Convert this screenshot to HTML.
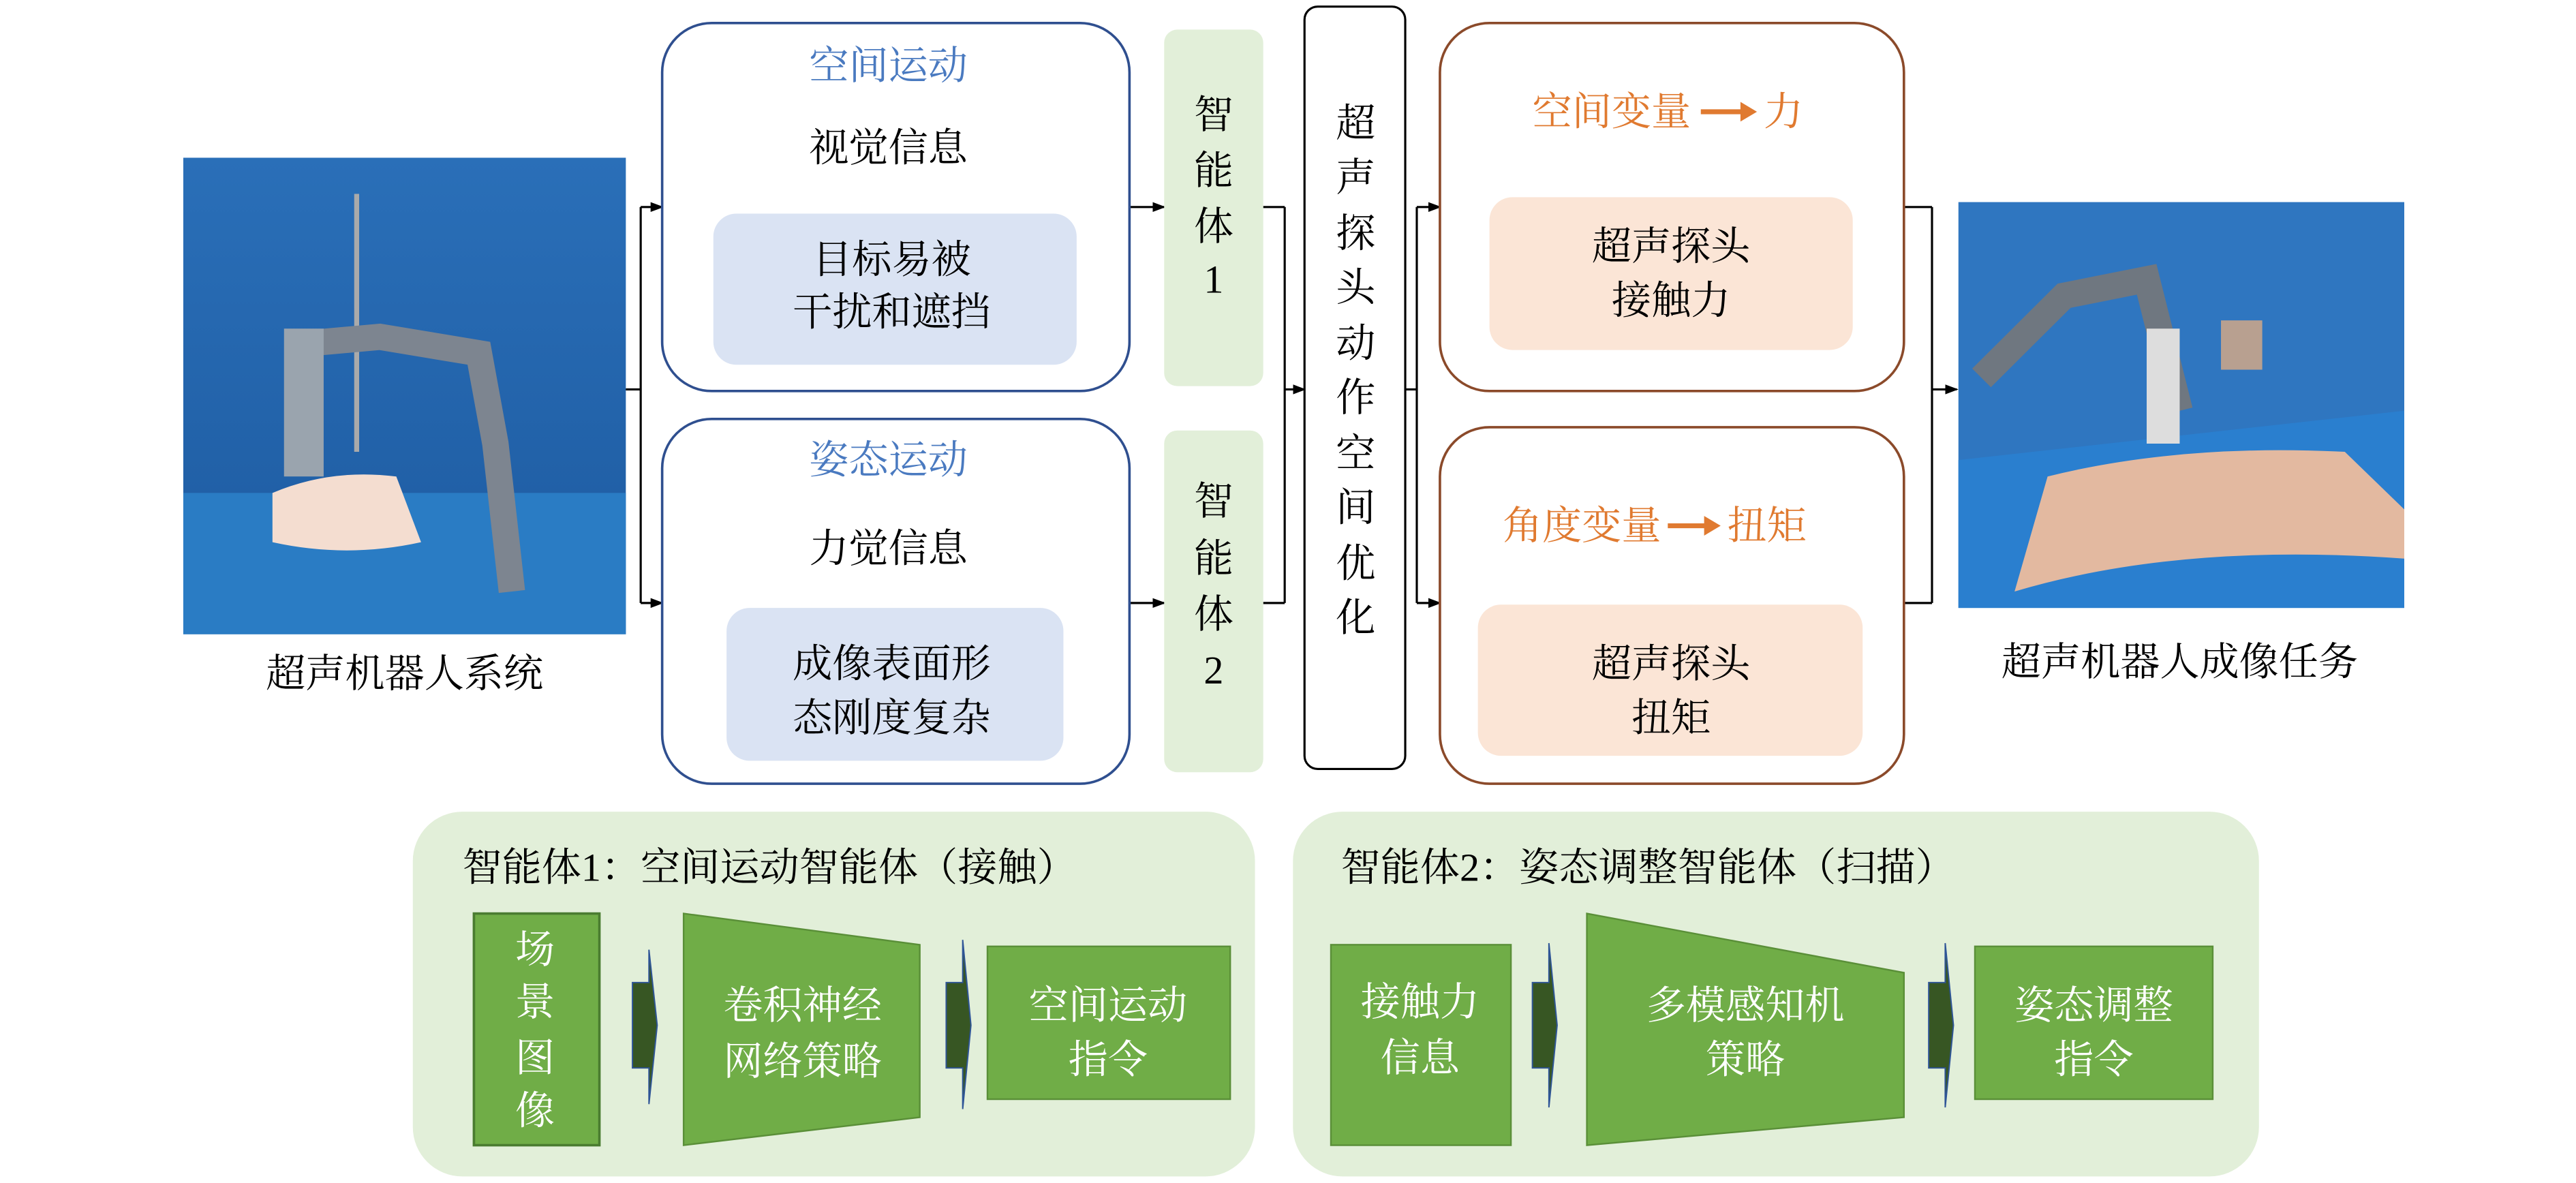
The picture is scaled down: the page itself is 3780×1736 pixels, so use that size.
<!DOCTYPE html>
<html><head><meta charset="utf-8"><style>
html,body{margin:0;padding:0;background:#fff;}
svg{display:block;}
text{font-family:"Liberation Serif","Noto Serif CJK SC",serif;font-size:24px;text-anchor:middle;dominant-baseline:central;}
</style></head><body>
<svg width="3780" height="1736" viewBox="0 0 1560 720" preserveAspectRatio="none" xmlns="http://www.w3.org/2000/svg">
<defs>
<marker id="ah" markerWidth="8" markerHeight="8" refX="7" refY="4" orient="auto" markerUnits="userSpaceOnUse"><path d="M0,1 L8,4 L0,7 z" fill="#000"/></marker>
<linearGradient id="bg1" x1="0" y1="0" x2="0" y2="1"><stop offset="0" stop-color="#2a6fb8"/><stop offset="1" stop-color="#1d5aa0"/></linearGradient>
</defs>
<!-- left photo -->
<rect x="111" y="96" width="268" height="290" fill="url(#bg1)"/>
<rect x="111" y="300" width="268" height="86" fill="#2a7cc4"/>
<line x1="216" y1="118" x2="216" y2="275" stroke="#aaa" stroke-width="3"/>
<path d="M175,210 L230,205 L290,215 L300,270 L310,360" stroke="#7d8590" stroke-width="16" fill="none"/>
<rect x="172" y="200" width="24" height="90" fill="#9aa4ae"/>
<path d="M165,300 Q200,285 240,290 L255,330 Q210,340 165,330 z" fill="#f4ddd0"/>
<text x="245" y="410">超声机器人系统</text>
<!-- right photo -->
<rect x="1186" y="123" width="270" height="247" fill="#2f76c0"/>
<path d="M1186,280 L1456,250 L1456,370 L1186,370 z" fill="#2a7fcf"/>
<path d="M1240,290 Q1320,270 1420,275 L1456,310 L1456,340 Q1320,330 1220,360 z" fill="#e3b9a0"/>
<path d="M1200,230 L1250,180 L1300,170 L1320,250" stroke="#6f7780" stroke-width="16" fill="none"/>
<rect x="1300" y="200" width="20" height="70" fill="#ddd"/>
<rect x="1345" y="195" width="25" height="30" fill="#b8a090"/>
<text x="1320" y="403">超声机器人成像任务</text>
<!-- connectors -->
<g stroke="#000" stroke-width="1.3" fill="none">
<line x1="379" y1="237" x2="388" y2="237"/>
<line x1="388" y1="126" x2="388" y2="367"/>
<line x1="388" y1="126" x2="401" y2="126" marker-end="url(#ah)"/>
<line x1="388" y1="367" x2="401" y2="367" marker-end="url(#ah)"/>
<line x1="684" y1="126" x2="705" y2="126" marker-end="url(#ah)"/>
<line x1="684" y1="367" x2="705" y2="367" marker-end="url(#ah)"/>
<line x1="765" y1="126" x2="778" y2="126"/>
<line x1="765" y1="367" x2="778" y2="367"/>
<line x1="778" y1="126" x2="778" y2="367"/>
<line x1="778" y1="237" x2="790" y2="237" marker-end="url(#ah)"/>
<line x1="851" y1="237" x2="858" y2="237"/>
<line x1="858" y1="126" x2="858" y2="367"/>
<line x1="858" y1="126" x2="872" y2="126" marker-end="url(#ah)"/>
<line x1="858" y1="367" x2="872" y2="367" marker-end="url(#ah)"/>
<line x1="1153" y1="126" x2="1170" y2="126"/>
<line x1="1153" y1="367" x2="1170" y2="367"/>
<line x1="1170" y1="126" x2="1170" y2="367"/>
<line x1="1170" y1="237" x2="1185" y2="237" marker-end="url(#ah)"/>
</g>
<!-- blue boxes -->
<rect x="401" y="14" width="283" height="224" rx="30" fill="#fff" stroke="#2f4f8f" stroke-width="1.5"/>
<text x="538" y="40" fill="#4a7ac0">空间运动</text>
<text x="538" y="90">视觉信息</text>
<rect x="432" y="130" width="220" height="92" rx="14" fill="#dae3f3"/>
<text x="540" y="158">目标易被</text>
<text x="540" y="190">干扰和遮挡</text>
<rect x="401" y="255" width="283" height="222" rx="30" fill="#fff" stroke="#2f4f8f" stroke-width="1.5"/>
<text x="538" y="280" fill="#4a7ac0">姿态运动</text>
<text x="538" y="334">力觉信息</text>
<rect x="440" y="370" width="204" height="93" rx="14" fill="#dae3f3"/>
<text x="540" y="404">成像表面形</text>
<text x="540" y="437">态刚度复杂</text>
<!-- green agent boxes -->
<rect x="705" y="18" width="60" height="217" rx="8" fill="#e2efd9"/>
<text x="735" y="70">智</text><text x="735" y="104">能</text><text x="735" y="138">体</text><text x="735" y="170">1</text>
<rect x="705" y="262" width="60" height="208" rx="8" fill="#e2efd9"/>
<text x="735" y="305">智</text><text x="735" y="340">能</text><text x="735" y="374">体</text><text x="735" y="408">2</text>
<!-- tall box -->
<rect x="790" y="4" width="61" height="464" rx="8" fill="#fff" stroke="#000" stroke-width="1.3"/>
<g>
<text x="821" y="75">超</text><text x="821" y="108">声</text><text x="821" y="142">探</text><text x="821" y="175">头</text><text x="821" y="209">动</text><text x="821" y="242">作</text><text x="821" y="276">空</text><text x="821" y="309">间</text><text x="821" y="343">优</text><text x="821" y="376">化</text>
</g>
<!-- orange boxes -->
<rect x="872" y="14" width="281" height="224" rx="30" fill="#fff" stroke="#8b4a2a" stroke-width="1.5"/>
<text x="976" y="68" fill="#e07a30">空间变量</text>
<path d="M1030,68 L1056,68" stroke="#e07a30" stroke-width="3"/><path d="M1054,62 L1064,68 L1054,74 z" fill="#e07a30"/>
<text x="1080" y="68" fill="#e07a30">力</text>
<rect x="902" y="120" width="220" height="93" rx="14" fill="#fbe5d6"/>
<text x="1012" y="150">超声探头</text>
<text x="1012" y="183">接触力</text>
<rect x="872" y="260" width="281" height="217" rx="30" fill="#fff" stroke="#8b4a2a" stroke-width="1.5"/>
<text x="958" y="320" fill="#e07a30">角度变量</text>
<path d="M1010,320 L1034,320" stroke="#e07a30" stroke-width="3"/><path d="M1032,314 L1042,320 L1032,326 z" fill="#e07a30"/>
<text x="1070" y="320" fill="#e07a30">扭矩</text>
<rect x="895" y="368" width="233" height="92" rx="14" fill="#fbe5d6"/>
<text x="1012" y="404">超声探头</text>
<text x="1012" y="437">扭矩</text>
<!-- bottom panel 1 -->
<rect x="250" y="494" width="510" height="222" rx="30" fill="#e2efd9"/>
<text x="280" y="528" style="text-anchor:start">智能体1：空间运动智能体（接触）</text>
<rect x="287" y="556" width="76" height="141" fill="#70ad47" stroke="#4a7c30" stroke-width="1.5"/>
<g fill="#fff"><text x="324" y="578">场</text><text x="324" y="610">景</text><text x="324" y="644">图</text><text x="324" y="676">像</text></g>
<path d="M383,598 L393,598 L393,578 L398,624 L393,672 L393,650 L383,650 z" fill="#375623" stroke="#2f5597" stroke-width="0.8"/>
<polygon points="414,556 557,575 557,680 414,697" fill="#70ad47" stroke="#5a8f38"/>
<g fill="#fff"><text x="486" y="612">卷积神经</text><text x="486" y="646">网络策略</text></g>
<path d="M573,598 L583,598 L583,572 L588,624 L583,675 L583,650 L573,650 z" fill="#375623" stroke="#2f5597" stroke-width="0.8"/>
<rect x="598" y="576" width="147" height="93" fill="#70ad47" stroke="#5a8f38"/>
<g fill="#fff"><text x="671" y="612">空间运动</text><text x="671" y="645">指令</text></g>
<!-- bottom panel 2 -->
<rect x="783" y="494" width="585" height="222" rx="30" fill="#e2efd9"/>
<text x="812" y="528" style="text-anchor:start">智能体2：姿态调整智能体（扫描）</text>
<rect x="806" y="575" width="109" height="122" fill="#70ad47" stroke="#5a8f38"/>
<g fill="#fff"><text x="860" y="610">接触力</text><text x="860" y="644">信息</text></g>
<path d="M928,598 L938,598 L938,574 L943,624 L938,674 L938,650 L928,650 z" fill="#375623" stroke="#2f5597" stroke-width="0.8"/>
<polygon points="961,556 1153,592 1153,680 961,697" fill="#70ad47" stroke="#5a8f38"/>
<g fill="#fff"><text x="1057" y="612">多模感知机</text><text x="1057" y="645">策略</text></g>
<path d="M1168,598 L1178,598 L1178,574 L1183,624 L1178,674 L1178,650 L1168,650 z" fill="#375623" stroke="#2f5597" stroke-width="0.8"/>
<rect x="1196" y="576" width="144" height="93" fill="#70ad47" stroke="#5a8f38"/>
<g fill="#fff"><text x="1268" y="612">姿态调整</text><text x="1268" y="645">指令</text></g>
</svg>
</body></html>
